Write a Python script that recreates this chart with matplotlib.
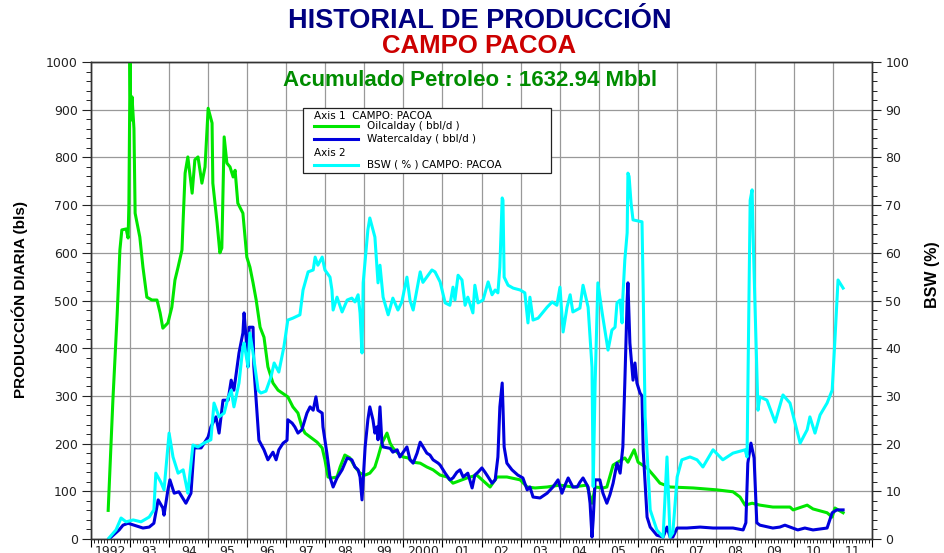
import matplotlib
matplotlib.use('Agg')
import matplotlib.pyplot as plt
from matplotlib.ticker import MultipleLocator, FuncFormatter, NullFormatter
from matplotlib.patches import Rectangle
from matplotlib.lines import Line2D

# ---- datos ----
oil_year = [1992.44, 1992.56, 1992.67, 1992.74, 1992.79, 1992.90, 1992.95, 1992.97,
            1993.00, 1993.02, 1993.05, 1993.10, 1993.13, 1993.25, 1993.33, 1993.43, 1993.56, 1993.69, 1993.77, 1993.84, 1993.97,
            1994.07, 1994.15, 1994.23, 1994.33, 1994.36, 1994.41, 1994.48, 1994.59, 1994.66, 1994.74, 1994.84, 1994.92,
            1995.00, 1995.10, 1995.12, 1995.23, 1995.30, 1995.35, 1995.41, 1995.48, 1995.56, 1995.64, 1995.69, 1995.76, 1995.89, 1995.99,
            1996.07, 1996.15, 1996.23, 1996.33, 1996.43, 1996.53, 1996.66, 1996.79,
            1997.04, 1997.17, 1997.30, 1997.40, 1997.48, 1997.61, 1997.79, 1997.92, 1997.99,
            1998.07, 1998.17, 1998.30, 1998.38, 1998.50, 1998.63, 1998.76, 1998.89,
            1999.02, 1999.14, 1999.27, 1999.35, 1999.45, 1999.58, 1999.66, 1999.73, 1999.86, 1999.99,
            2000.12, 2000.25, 2000.43, 2000.60, 2000.76, 2000.94,
            2001.12, 2001.27, 2001.63, 2001.88,
            2002.22, 2002.40, 2002.65, 2002.99,
            2003.17, 2003.37, 2003.68,
            2004.01, 2004.34, 2004.70, 2004.83, 2004.91,
            2005.11, 2005.21, 2005.37, 2005.67, 2005.75, 2005.91,
            2006.01, 2006.24, 2006.44, 2006.57, 2006.83,
            2007.42,
            2008.03, 2008.44, 2008.62, 2008.75, 2008.93,
            2009.13, 2009.46, 2009.90, 2009.98,
            2010.34, 2010.49, 2010.85, 2010.98,
            2011.05, 2011.26]
oil_bbl = [60, 290, 470, 606, 648, 650, 631, 700,
           1000, 878, 927, 860, 683, 633, 570, 507, 501, 501, 474, 442, 453,
           486, 543, 570, 606, 669, 767, 801, 725, 795, 801, 746, 780,
           903, 872, 746, 662, 600, 610, 843, 788, 780, 759, 773, 704, 683, 591,
           570, 537, 501, 444, 423, 361, 327, 312,
           298, 277, 264, 235, 222, 214, 203, 191, 166,
           130, 128, 130, 151, 176, 170, 151, 138,
           134, 138, 151, 172, 201, 222, 201, 191, 180, 172,
           170, 161, 159, 151, 145, 134,
           130, 117, 128, 134,
           109, 130, 130, 124,
           109, 107, 109,
           113, 109, 113, 75, 109,
           107, 109, 155, 170, 161, 187,
           161, 149, 130, 117, 109,
           107,
           103, 99, 88, 71, 75,
           71, 67, 67, 61,
           71, 63, 55, 46,
           65, 55]

water_year = [1992.46, 1992.72, 1992.82, 1992.95,
              1993.10, 1993.33, 1993.49, 1993.61, 1993.72, 1993.84, 1993.87, 1993.97,
              1994.02, 1994.13, 1994.25, 1994.43, 1994.56, 1994.64, 1994.82,
              1995.00, 1995.07, 1995.20, 1995.28, 1995.38, 1995.51, 1995.59, 1995.66, 1995.79, 1995.89, 1995.92, 1995.97,
              1996.02, 1996.05, 1996.15, 1996.17, 1996.23, 1996.30, 1996.43, 1996.53, 1996.66, 1996.74, 1996.81, 1996.92,
              1997.02, 1997.04, 1997.15, 1997.22, 1997.30, 1997.40, 1997.53, 1997.61, 1997.69, 1997.76, 1997.81, 1997.92, 1997.94,
              1998.04, 1998.12, 1998.20, 1998.30, 1998.43, 1998.56, 1998.68, 1998.76, 1998.84, 1998.89, 1998.94, 1998.97,
              1999.02, 1999.09, 1999.14, 1999.22, 1999.27, 1999.32, 1999.35, 1999.40, 1999.45, 1999.48, 1999.66, 1999.73, 1999.84, 1999.91,
              2000.09, 2000.17, 2000.25, 2000.35, 2000.43, 2000.60, 2000.68, 2000.76, 2000.89, 2000.94,
              2001.07, 2001.19, 2001.27, 2001.37, 2001.45, 2001.53, 2001.65, 2001.76, 2001.83, 2001.91,
              2002.01, 2002.09, 2002.17, 2002.27, 2002.35, 2002.42, 2002.47, 2002.53, 2002.55, 2002.58, 2002.65, 2002.78, 2002.93,
              2003.06, 2003.17, 2003.24, 2003.32, 2003.50, 2003.68, 2003.83, 2003.96,
              2004.06, 2004.14, 2004.22, 2004.34, 2004.45, 2004.52, 2004.60, 2004.73, 2004.78, 2004.83, 2004.86, 2004.91,
              2005.03, 2005.11, 2005.21, 2005.29, 2005.37, 2005.47, 2005.55, 2005.62, 2005.67, 2005.73, 2005.75, 2005.80, 2005.88, 2005.93, 2005.98,
              2006.06, 2006.11, 2006.14, 2006.24, 2006.32, 2006.49, 2006.65, 2006.75, 2006.83, 2006.90,
              2007.01, 2007.26, 2007.60, 2007.93,
              2008.44, 2008.70, 2008.77, 2008.82, 2008.90, 2008.98,
              2009.05, 2009.13, 2009.46, 2009.64, 2009.77, 2009.90,
              2010.10, 2010.28, 2010.49, 2010.85, 2010.98,
              2011.10, 2011.26]
water_bbl = [0, 19, 29, 33,
             29, 23, 25, 33, 82, 65, 50, 103,
             124, 96, 99, 75, 96, 191, 191,
             214, 235, 256, 222, 291, 291, 333, 312, 390, 432, 474, 423,
             361, 444, 444, 361, 291, 207, 187, 166, 182, 166, 187, 201,
             207, 250, 243, 235, 222, 229, 264, 277, 270, 298, 270, 264, 235,
             180, 130, 109, 128, 145, 170, 166, 151, 145, 130, 82, 124,
             193, 250, 277, 250, 222, 235, 208, 277, 201, 193, 190, 182, 187, 172,
             193, 166, 159, 180, 203, 180, 176, 166, 159, 155,
             138, 124, 128, 140, 145, 130, 138, 107, 134, 140,
             149, 140, 130, 117, 124, 172, 277, 327, 277, 193, 159, 145, 134,
             128, 103, 109, 88, 86, 96, 109, 124,
             96, 113, 128, 109, 109, 119, 128, 109, 75, 4, 40, 124,
             124, 96, 75, 93, 117, 159, 138, 193, 327, 501, 537, 411, 333, 369, 327,
             306, 300, 187, 46, 25, 8, 4, 25, 4, 4,
             23, 23, 25, 23,
             23, 19, 34, 159, 201, 170,
             34, 29, 23, 25, 29, 25,
             19, 23, 19, 23, 55,
             61, 61]

bsw_year = [1992.46, 1992.64, 1992.77, 1992.90,
            1993.08, 1993.28, 1993.49, 1993.61, 1993.66, 1993.79, 1993.87,
            1994.00, 1994.10, 1994.23, 1994.36, 1994.48, 1994.56, 1994.61, 1994.74, 1994.89,
            1995.07, 1995.15, 1995.28, 1995.41, 1995.51, 1995.59, 1995.66, 1995.79, 1995.89, 1995.92,
            1996.02, 1996.07, 1996.15, 1996.28, 1996.35, 1996.48, 1996.61, 1996.69, 1996.81, 1996.94,
            1997.04, 1997.17, 1997.35, 1997.43, 1997.56, 1997.69, 1997.74, 1997.81, 1997.92, 1997.99,
            1998.12, 1998.17, 1998.20, 1998.30, 1998.43, 1998.56, 1998.68, 1998.76, 1998.84, 1998.89, 1998.94, 1998.97,
            1999.09, 1999.14, 1999.27, 1999.35, 1999.40, 1999.48, 1999.61, 1999.73, 1999.86, 1999.96,
            2000.09, 2000.17, 2000.25, 2000.43, 2000.50, 2000.73, 2000.81, 2000.94,
            2001.07, 2001.19, 2001.27, 2001.32, 2001.40, 2001.50, 2001.58, 2001.65, 2001.78, 2001.83, 2001.91,
            2002.04, 2002.17, 2002.27, 2002.35, 2002.42, 2002.47, 2002.53, 2002.55, 2002.58, 2002.68, 2002.81, 2002.99,
            2003.11, 2003.19, 2003.24, 2003.32, 2003.45, 2003.68, 2003.81, 2003.93,
            2004.01, 2004.09, 2004.19, 2004.27, 2004.34, 2004.52, 2004.60, 2004.73, 2004.83, 2004.86, 2004.91, 2004.98,
            2005.09, 2005.24, 2005.34, 2005.42, 2005.47, 2005.55, 2005.60, 2005.62, 2005.67, 2005.73, 2005.75, 2005.78, 2005.83, 2005.88,
            2006.11, 2006.14, 2006.19, 2006.32, 2006.49, 2006.65, 2006.75, 2006.83, 2006.90,
            2007.01, 2007.13, 2007.34, 2007.52, 2007.67, 2007.93,
            2008.18, 2008.44, 2008.75, 2008.80, 2008.88, 2008.93, 2008.95, 2009.00,
            2009.08, 2009.13, 2009.31, 2009.52, 2009.72, 2009.90,
            2010.03, 2010.16, 2010.34, 2010.41, 2010.54, 2010.67, 2010.85, 2010.98,
            2011.05, 2011.13, 2011.26]
bsw_pct = [0.2, 1.9, 4.4, 3.6,
           4.0, 3.6, 4.6, 6.1, 13.8, 11.9, 10.3,
           22.2, 17.2, 13.8, 14.5, 9.6, 15.9, 19.7, 19.3, 20.1,
           20.8, 28.5, 25.6, 26.4, 29.6, 31.2, 27.7, 32.7, 40.3, 41.1,
           36.1, 43.2, 39.0, 31.2, 30.6, 31.0, 34.0, 36.9, 35.0, 40.3,
           45.9, 46.3, 47.0, 52.2, 56.0, 56.4, 59.1, 57.4, 59.1, 56.4,
           54.9, 52.2, 48.0, 50.7, 47.6, 50.1, 50.5, 49.7, 51.2, 47.4, 39.0, 53.7,
           64.8, 67.3, 63.3, 53.7, 57.4, 50.7, 47.0, 50.5, 48.0, 49.7,
           54.9, 50.0, 48.0, 56.0, 53.8, 56.4, 56.0, 53.9,
           49.5, 49.0, 52.8, 50.1, 55.3, 54.3, 49.0, 50.7, 47.4, 53.2, 49.5,
           50.1, 53.9, 51.2, 52.2, 51.6, 57.0, 71.5, 71.0, 54.9, 53.2, 52.6, 52.2,
           51.6, 45.3, 50.7, 45.9, 46.3, 48.6, 49.7, 49.0,
           52.8, 43.4, 48.6, 51.2, 47.6, 48.4, 53.2, 48.6, 36.0, 11.0, 32.7, 53.7,
           47.4, 39.6, 43.8, 44.4, 49.5, 50.1, 45.3, 50.7, 58.5, 64.2, 76.7, 76.0, 70.4, 66.9,
           66.5, 52.2, 25.6, 6.1, 1.9, 0.4, 17.2, 0.4, 1.3,
           13.0, 16.6, 17.2, 16.6, 15.1, 18.7,
           16.6, 18.0, 18.7, 17.2, 71.0, 73.2, 65.4, 50.0,
           27.0, 29.8, 29.1, 24.5, 30.2, 28.5,
           24.3, 20.1, 22.9, 25.6, 22.2, 26.0, 28.5, 31.2,
           41.7, 54.3, 52.6]

year_labels = ['1992', '93', '94', '95', '96', '97', '98', '99', '2000',
               '01', '02', '03', '04', '05', '06', '07', '08', '09', '10', '11']

W, H = 944, 553


def fx(x):
    return x / W


def fy(y):
    return 1 - y / H


fig = plt.figure(figsize=(W / 100, H / 100), dpi=100)
ax = fig.add_axes([fx(91), fy(539), (872 - 91) / W, (539 - 62) / H])
ax2 = ax.twinx()

ax.plot(oil_year, oil_bbl, color='#00e600', lw=2.2, zorder=3)
ax.plot(water_year, water_bbl, color='#0000dd', lw=2.2, zorder=4)
ax2.plot(bsw_year, bsw_pct, color='#00ffff', lw=2.2)

ax.set_xlim(1992, 2012)
ax.set_ylim(0, 1000)
ax2.set_ylim(0, 100)

# eje x: lineas por año, etiquetas a mitad de año
ax.xaxis.set_major_locator(MultipleLocator(1))
ax.xaxis.set_major_formatter(NullFormatter())
ax.xaxis.set_minor_locator(MultipleLocator(1 / 12))


def year_fmt(x, pos):
    m = int(round(x * 12))
    if m % 12 != 6:
        return ''
    i = m // 12 - 1992
    return year_labels[i] if 0 <= i < len(year_labels) else ''


ax.xaxis.set_minor_formatter(FuncFormatter(year_fmt))
ax.tick_params(axis='x', which='major', length=6, direction='out')
ax.tick_params(axis='x', which='minor', length=3, direction='out', pad=1.5, labelsize=9,
               labelcolor='#222222')

ax.yaxis.set_major_locator(MultipleLocator(100))
ax.yaxis.set_minor_locator(MultipleLocator(20))
ax2.yaxis.set_major_locator(MultipleLocator(10))
ax2.yaxis.set_minor_locator(MultipleLocator(2))
for a in (ax, ax2):
    a.tick_params(axis='y', which='major', length=6.5, pad=3, labelsize=9, colors='#222222')
    a.tick_params(axis='y', which='minor', length=3.6)

ax.grid(True, which='major', color='#999999', lw=0.9)
for a in (ax, ax2):
    for s in a.spines.values():
        s.set_color('#333333')
        s.set_linewidth(1.0)

# titulos
fig.text(0.508, fy(21), 'HISTORIAL DE PRODUCCIÓN', ha='center', va='center',
         fontsize=19.5, fontweight='bold', color='#000080', family='Liberation Sans')
fig.text(0.508, fy(46), 'CAMPO PACOA', ha='center', va='center',
         fontsize=18.5, fontweight='bold', color='#cc0000', family='Liberation Sans')
fig.text(fx(470), fy(80), 'Acumulado Petroleo : 1632.94 Mbbl', ha='center', va='center',
         fontsize=16, fontweight='bold', color='#008c00', family='Liberation Sans')

fig.text(fx(20), fy(300), 'PRODUCCIÓN DIARIA (bls)', rotation=90, ha='center', va='center',
         fontsize=11, fontweight='bold', family='Liberation Sans')
fig.text(fx(933), fy(275), 'BSW (%)', rotation=90, ha='center', va='center',
         fontsize=11.5, fontweight='bold', family='Liberation Sans')

# leyenda
fig.add_artist(Rectangle((fx(303), fy(173)), (551 - 303) / W, (173 - 108) / H,
                         transform=fig.transFigure, facecolor='white',
                         edgecolor='#222222', lw=0.9, zorder=5))
leg_items = [(116, None, 'Axis 1  CAMPO: PACOA'),
             (126, '#00e600', 'Oilcalday ( bbl/d )'),
             (139, '#0000dd', 'Watercalday ( bbl/d )'),
             (153, None, 'Axis 2'),
             (165, '#00ffff', 'BSW ( % ) CAMPO: PACOA')]
for y, c, txt in leg_items:
    if c is None:
        fig.text(fx(314), fy(y), txt, ha='left', va='center', fontsize=7.5, zorder=6)
    else:
        fig.add_artist(Line2D([fx(314), fx(358)], [fy(y), fy(y)], transform=fig.transFigure,
                              color=c, lw=2.2, zorder=6))
        fig.text(fx(367), fy(y), txt, ha='left', va='center', fontsize=7.5, zorder=6)

plt.savefig('out.png', dpi=100)
